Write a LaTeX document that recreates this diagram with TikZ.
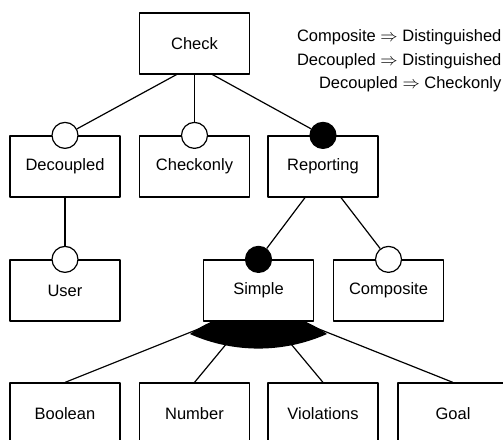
\documentclass[tikz,border=0pt]{standalone}
\usepackage{fontspec}
\setmainfont{Liberation Sans}
\usetikzlibrary{backgrounds}

\begin{document}
\begin{tikzpicture}[x=1pt, y=1pt, line width=1.2pt, line join=round, font=\fontsize{16.5}{19}\selectfont,
  feat/.style={draw, fill=white, minimum width=110pt, minimum height=61pt, inner sep=0pt},
  optional/.style={draw, circle, fill=white, minimum size=26pt, inner sep=0pt},
  mandatory/.style={draw, circle, fill=black, minimum size=26pt, inner sep=0pt},
  rule/.style={anchor=base east, inner sep=0pt},
  every on background layer/.style={line width=1.2pt, line join=round}]
\useasboundingbox (0,0) rectangle (503,439);
% features
\node[feat] (check) at (194.5,395.5) {Check};
\node[feat] (decoupled) at (65,272.5) {Decoupled};
\node[feat] (checkonly) at (194.5,272.5) {Checkonly};
\node[feat] (reporting) at (323,272.5) {Reporting};
\node[feat] (user) at (65,148.5) {User};
\node[feat] (simple) at (258.5,148.5) {Simple};
\node[feat] (composite) at (388.5,148.5) {Composite};
\node[feat] (boolean) at (65,25.5) {Boolean};
\node[feat] (number) at (194.5,25.5) {Number};
\node[feat] (violations) at (323,25.5) {Violations};
\node[feat] (goal) at (453,25.5) {Goal};
% optional / mandatory marks
\node[optional] (decmark) at (decoupled.north) {};
\node[optional] (chkmark) at (checkonly.north) {};
\node[mandatory] (repmark) at (reporting.north) {};
\node[optional] (usermark) at (user.north) {};
\node[mandatory] (simmark) at (simple.north) {};
\node[optional] (commark) at (composite.north) {};
% edges
\draw ([xshift=-18pt]check.south) -- (decmark);
\draw (check.south) -- (chkmark);
\draw ([xshift=18pt]check.south) -- (repmark);
\draw (decoupled.south) -- (usermark);
\draw ([xshift=-18pt]reporting.south) -- (simmark);
\draw ([xshift=18pt]reporting.south) -- (commark);
% or-group below Simple
\coordinate (apex) at (258.5,134);
\begin{scope}[on background layer]
\draw (boolean.north) -- (apex);
\draw (number.north) -- (apex);
\draw (violations.north) -- (apex);
\draw (goal.north) -- (apex);
\fill (190,105) arc[start angle=126, end angle=54, radius=116.5]
  arc[start angle=294, end angle=246, radius=168.5] -- cycle;
\end{scope}
% constraints
\node[rule] (c1) at (502,397) {Composite $\Rightarrow$ Distinguished};
\node[rule] (c2) at (502,373) {Decoupled $\Rightarrow$ Distinguished};
\node[rule] (c3) at (502,350) {Decoupled $\Rightarrow$ Checkonly};
\end{tikzpicture}
\end{document}
